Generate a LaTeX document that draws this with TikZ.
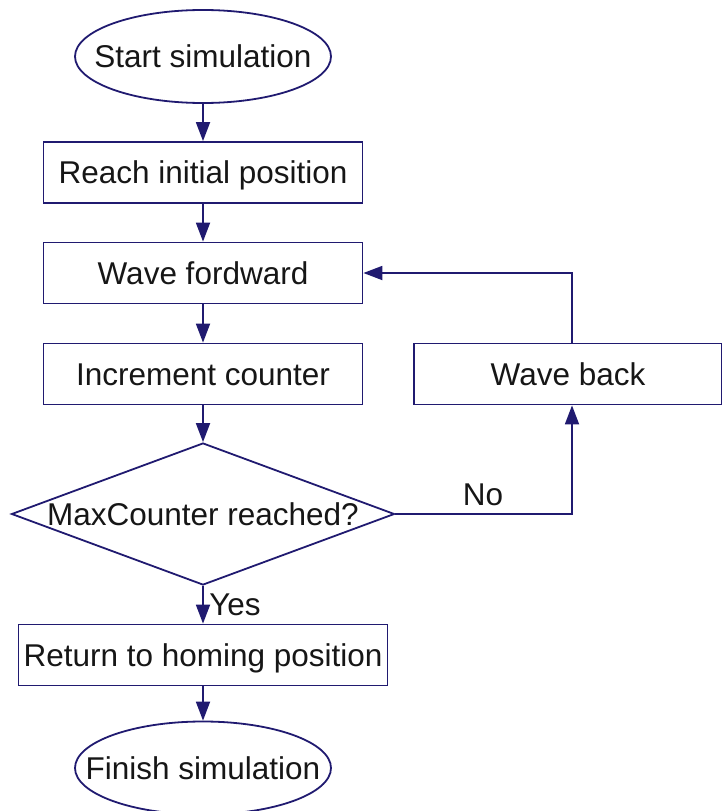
\documentclass[tikz,border=0pt]{standalone}
\usepackage{fontspec}
\setmainfont{Liberation Sans}
\usetikzlibrary{shapes.geometric,arrows.meta}
\definecolor{navy}{RGB}{32,26,112}
\definecolor{ink}{RGB}{22,22,22}
\begin{document}
\begin{tikzpicture}[x=1pt,y=-1pt,
  every node/.style={font=\fontsize{31.5}{36}\selectfont, text=ink,
    text height=22.6pt, text depth=0pt},
  process/.style={draw=navy, line width=1.8pt, rectangle, inner sep=0pt,
    minimum width=319pt, minimum height=61pt},
  terminal/.style={draw=navy, line width=1.8pt, ellipse, inner sep=0pt,
    minimum width=256pt, minimum height=93pt},
  decision/.style={draw=navy, line width=1.8pt, diamond, inner sep=0pt,
    minimum width=383pt, minimum height=142pt},
  flow/.style={draw=navy, line width=1.8pt,
    -{Triangle[length=19pt,width=14pt]}},
  branch/.style={inner sep=0pt}
]
\useasboundingbox (0,0) rectangle (722,811);
\begin{scope}
\clip (0,0) rectangle (722,811);

% flow chart nodes
\node[terminal, label={center:Start simulation}] (start) at (203,56.5) {};
\node[process] (reach) at (203,172.5) {Reach initial position};
\node[process] (fwd) at (203,273) {Wave fordward};
\node[process] (inc) at (203,374) {Increment counter};
\node[process, minimum width=308pt] (back) at (568,374) {Wave back};
\node[decision, label={center:MaxCounter reached?}] (max) at (203,514) {};
\node[process, minimum width=369pt] (home) at (203,655) {Return to homing position};
\node[terminal, label={center:Finish simulation}] (finish) at (203,768) {};

% connectors
\draw[flow] (start) -- (reach);
\draw[flow] (reach) -- (fwd);
\draw[flow] (fwd) -- (inc);
\draw[flow] (inc) -- (max);
\draw[flow] (max.south) -- (home.north);
\draw[flow] (home) -- (finish);
\coordinate (turn) at (572,514);
\draw[flow] (max.east) -- (turn) -- (back.south -| turn);
\coordinate (up) at (572,273);
\draw[flow] (back.north -| up) -- (up) -- (fwd.east);

% branch labels
\node[branch] (no) at (483,494.5) {No};
\node[branch] (yes) at (235,604) {Yes};
\end{scope}
\end{tikzpicture}
\end{document}
